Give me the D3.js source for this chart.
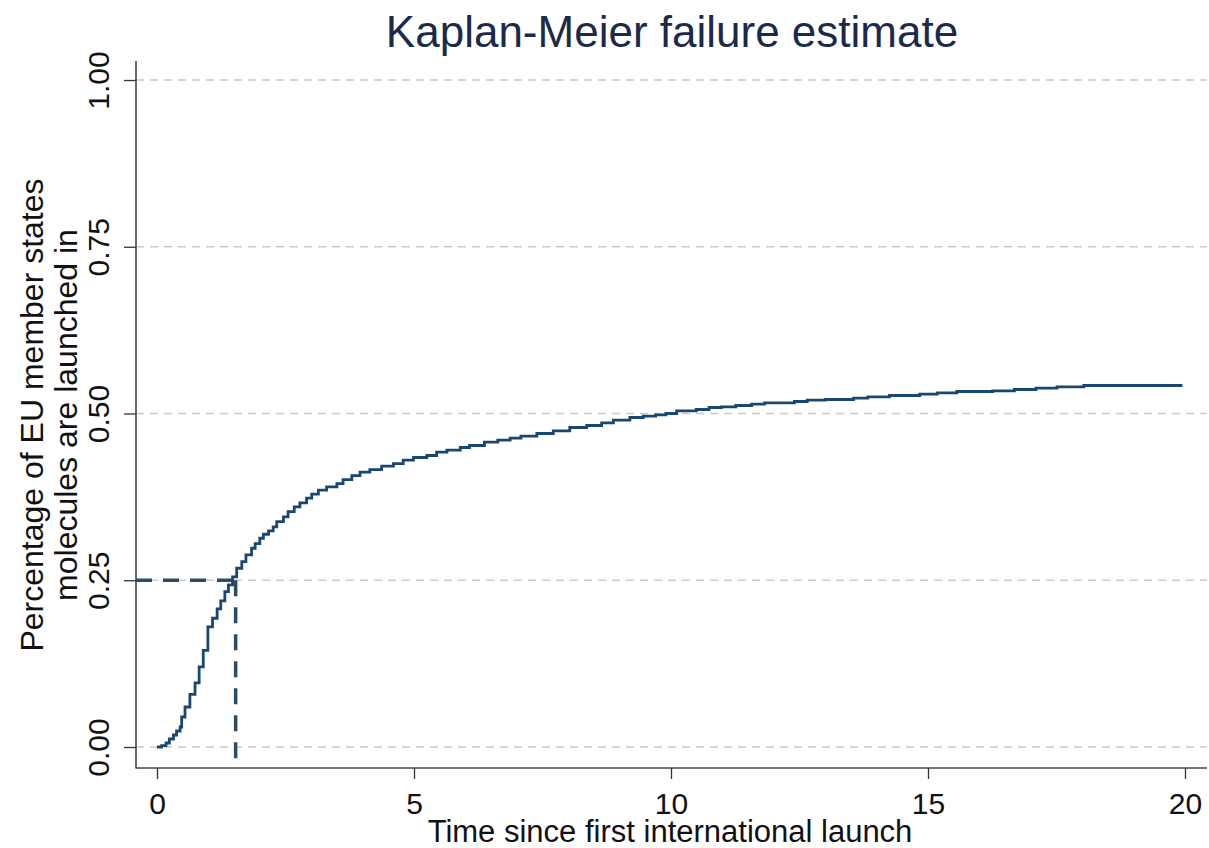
<!DOCTYPE html>
<html>
<head>
<meta charset="utf-8">
<script src="https://cdn.jsdelivr.net/npm/d3@7"></script>
<style>
  html, body { margin: 0; padding: 0; background: #ffffff; }
  svg { display: block; font-family: "Liberation Sans", Arial, sans-serif; }
</style>
</head>
<body>
<svg id="chart" width="1209" height="848"></svg>
<script>
// ---- Data ----
const stepTimes = [0, 0.09, 0.175, 0.24, 0.32, 0.38, 0.45, 0.48, 0.545, 0.64, 0.74, 0.82, 0.90, 0.99,
  1.08, 1.17, 1.24, 1.32, 1.39, 1.47, 1.55, 1.65, 1.73, 1.84, 1.91, 2.00, 2.07, 2.17, 2.26, 2.33,
  2.46, 2.55, 2.67, 2.78, 2.91, 3.01, 3.14, 3.30, 3.50, 3.62, 3.79, 3.95, 4.14, 4.37, 4.60, 4.79,
  4.99, 5.25, 5.44, 5.64, 5.90, 6.08, 6.37, 6.63, 6.87, 7.08, 7.39, 7.71, 8.03, 8.36, 8.65, 8.88,
  9.20, 9.46, 9.70, 9.90, 10.11, 10.49, 10.74, 10.98, 11.26, 11.57, 11.82, 12.40, 12.65, 13.00,
  13.55, 13.83, 14.25, 14.84, 15.18, 15.56, 16.26, 16.68, 17.10, 17.51, 18.03, 19.95];
const failure = [0, 0.002, 0.006, 0.012, 0.018, 0.024, 0.030, 0.045, 0.060, 0.079, 0.096, 0.120, 0.145, 0.180,
  0.193, 0.207, 0.219, 0.233, 0.243, 0.255, 0.268, 0.278, 0.288, 0.298, 0.305, 0.313, 0.319, 0.324, 0.330, 0.338,
  0.345, 0.353, 0.360, 0.366, 0.373, 0.379, 0.385, 0.390, 0.395, 0.401, 0.407, 0.412, 0.416, 0.421, 0.425, 0.430,
  0.434, 0.437, 0.442, 0.445, 0.449, 0.452, 0.457, 0.460, 0.463, 0.466, 0.470, 0.474, 0.479, 0.482, 0.486, 0.490,
  0.494, 0.496, 0.498, 0.500, 0.504, 0.506, 0.509, 0.510, 0.512, 0.514, 0.516, 0.518, 0.520, 0.521,
  0.523, 0.525, 0.527, 0.529, 0.531, 0.533, 0.534, 0.536, 0.538, 0.540, 0.542, 0.542];
const xTicks = [0, 5, 10, 15, 20];
const yTicks = [0, 0.25, 0.5, 0.75, 1];
const yTickLabels = ["0.00", "0.25", "0.50", "0.75", "1.00"];
const refTime = 1.53;      // 25th percentile time
const refFailure = 0.25;
const titleText = "Kaplan-Meier failure estimate";
const xTitle = "Time since first international launch";
const yTitleLines = ["Percentage of EU member states", "molecules are launched in"];

// ---- Layout ----
const svg = d3.select("#chart");
const x = d3.scaleLinear().domain([0, 20]).range([157, 1185]);
const y = d3.scaleLinear().domain([0, 1]).range([747, 80]);
const plotLeft = 136, plotRight = 1207, plotTop = 61, plotBottom = 768;

const data = stepTimes.map((t, i) => ({ t, v: failure[i] }));

// grid lines
svg.append("g").selectAll("line").data(yTicks).join("line")
  .attr("x1", plotLeft).attr("x2", plotRight)
  .attr("y1", d => y(d)).attr("y2", d => y(d))
  .attr("stroke", "#c9c9c9").attr("stroke-width", 1.4)
  .attr("stroke-dasharray", "8,6");

// axes
const yAxis = d3.axisLeft(y).tickValues(yTicks).tickSize(12).tickFormat((d, i) => yTickLabels[i]);
const gy = svg.append("g").attr("transform", `translate(${plotLeft},0)`).call(yAxis);
gy.select(".domain").remove();
gy.selectAll(".tick line").attr("stroke", "#333").attr("stroke-width", 1.3);
gy.selectAll(".tick text").remove();
gy.selectAll(".tick").append("text")
  .attr("transform", "translate(-27,0) rotate(-90)")
  .attr("text-anchor", "middle")
  .attr("fill", "#111")
  .style("font-size", "30px")
  .text((d, i) => yTickLabels[i]);

const xAxis = d3.axisBottom(x).tickValues(xTicks).tickSize(11).tickFormat(d3.format("d"));
const gx = svg.append("g").attr("transform", `translate(0,${plotBottom})`).call(xAxis);
gx.select(".domain").remove();
gx.selectAll(".tick line").attr("stroke", "#333").attr("stroke-width", 1.3);
gx.selectAll(".tick text").attr("y", 46).attr("dy", 0)
  .attr("fill", "#111").style("font-size", "30px");

// axis lines
svg.append("line").attr("x1", plotLeft).attr("x2", plotLeft)
  .attr("y1", plotTop).attr("y2", plotBottom + 0.5)
  .attr("stroke", "#444").attr("stroke-width", 1.6);
svg.append("line").attr("x1", plotLeft).attr("x2", plotRight)
  .attr("y1", plotBottom).attr("y2", plotBottom)
  .attr("stroke", "#444").attr("stroke-width", 1.6);

// reference dashed lines
svg.append("line")
  .attr("x1", plotLeft).attr("x2", x(refTime))
  .attr("y1", y(refFailure)).attr("y2", y(refFailure))
  .attr("stroke", "#2d4c62").attr("stroke-width", 3.5).attr("stroke-dasharray", "16,11");
svg.append("line")
  .attr("x1", x(refTime)).attr("x2", x(refTime))
  .attr("y1", y(refFailure)).attr("y2", plotBottom)
  .attr("stroke", "#2d4c62").attr("stroke-width", 3.5).attr("stroke-dasharray", "16,11");

// KM curve
const line = d3.line().x(d => x(d.t)).y(d => y(d.v)).curve(d3.curveStepAfter);
svg.append("path").datum(data)
  .attr("d", line)
  .attr("fill", "none")
  .attr("stroke", "#1a476f")
  .attr("stroke-width", 2.8)
  .attr("stroke-linejoin", "miter");

// titles
svg.append("text").attr("x", 672).attr("y", 47).attr("text-anchor", "middle")
  .attr("fill", "#1c2a4a").style("font-size", "44px").text(titleText);
svg.append("text").attr("x", 670).attr("y", 842).attr("text-anchor", "middle")
  .attr("fill", "#111").style("font-size", "31px").text(xTitle);
svg.append("g").selectAll("text").data(yTitleLines).join("text")
  .attr("transform", (d, i) => `translate(${43 + i * 34},415) rotate(-90)`)
  .attr("text-anchor", "middle")
  .attr("fill", "#111").style("font-size", "32px")
  .text(d => d);
</script>
</body>
</html>
